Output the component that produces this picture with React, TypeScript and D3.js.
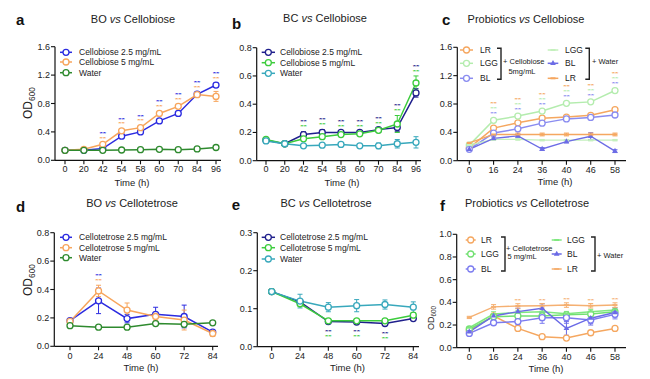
import React from "react";
import * as d3 from "d3";

// ---------------- data ----------------
const timeCb = ["0", "20", "42", "54", "58", "60", "70", "84", "96"];
const timeCt = ["0", "24", "48", "60", "72", "84"];
const timePro = ["0", "16", "24", "36", "40", "46", "58"];

// a: BO vs Cellobiose
const aCb25 = [0.14, 0.14, 0.165, 0.34, 0.4, 0.555, 0.66, 0.93, 1.06];
const aCb25Err = [0.01, 0.01, 0.02, 0.03, 0.03, 0.03, 0.03, 0.03, 0.03];
const aCb5 = [0.14, 0.155, 0.225, 0.415, 0.46, 0.66, 0.76, 0.925, 0.9];
const aCb5Err = [0.01, 0.01, 0.02, 0.03, 0.03, 0.03, 0.03, 0.02, 0.07];
const aWater = [0.14, 0.14, 0.14, 0.145, 0.15, 0.155, 0.15, 0.16, 0.18];
const aWaterErr = [0.01, 0.01, 0.01, 0.01, 0.01, 0.01, 0.01, 0.01, 0.01];
const aStars = ["42", "54", "58", "60", "70", "84", "96"];

// b: BC vs Cellobiose
const bCb25 = [0.145, 0.12, 0.185, 0.2, 0.2, 0.2, 0.22, 0.235, 0.48];
const bCb25Err = [0.01, 0.01, 0.02, 0.02, 0.01, 0.01, 0.01, 0.03, 0.03];
const bCb5 = [0.15, 0.12, 0.155, 0.17, 0.185, 0.19, 0.215, 0.26, 0.55];
const bCb5Err = [0.01, 0.01, 0.01, 0.01, 0.01, 0.01, 0.01, 0.06, 0.05];
const bWater = [0.14, 0.12, 0.105, 0.11, 0.115, 0.105, 0.105, 0.12, 0.13];
const bWaterErr = [0.01, 0.01, 0.01, 0.01, 0.01, 0.01, 0.02, 0.03, 0.04];
const bStars = ["42", "54", "58", "60", "70", "84", "96"];

// c: Probiotics vs Cellobiose
const cLR = [0.18, 0.46, 0.535, 0.6, 0.615, 0.64, 0.72];
const cLRErr = [0.01, 0.02, 0.02, 0.02, 0.02, 0.02, 0.02];
const cLGG = [0.22, 0.57, 0.63, 0.7, 0.81, 0.83, 0.99];
const cLGGErr = [0.01, 0.02, 0.02, 0.02, 0.02, 0.02, 0.03];
const cBL = [0.16, 0.39, 0.45, 0.53, 0.59, 0.61, 0.645];
const cBLErr = [0.01, 0.02, 0.02, 0.02, 0.02, 0.02, 0.02];
const cLGGw = [0.22, 0.3, 0.3, 0.29, 0.29, 0.29, 0.29];
const cLGGwErr = [0.01, 0.01, 0.01, 0.01, 0.01, 0.01, 0.01];
const cBLw = [0.16, 0.315, 0.35, 0.165, 0.27, 0.345, 0.135];
const cBLwErr = [0.01, 0.02, 0.02, 0.02, 0.02, 0.05, 0.02];
const cLRw = [0.25, 0.37, 0.37, 0.37, 0.37, 0.37, 0.37];
const cLRwErr = [0.01, 0.02, 0.02, 0.02, 0.02, 0.02, 0.02];
const cStars = ["16", "24", "36", "40", "46", "58"];

// d: BO vs Cellotetrose
const dCt25 = [0.18, 0.32, 0.195, 0.225, 0.21, 0.1];
const dCt25Err = [0.01, 0.09, 0.03, 0.05, 0.08, 0.01];
const dCt5 = [0.175, 0.39, 0.255, 0.21, 0.185, 0.09];
const dCt5Err = [0.01, 0.04, 0.05, 0.03, 0.07, 0.02];
const dWater = [0.145, 0.135, 0.135, 0.16, 0.155, 0.165];
const dWaterErr = [0.01, 0.01, 0.01, 0.01, 0.01, 0.01];
const dStars = ["24"];

// e: BC vs Cellotetrose
const eCt25 = [0.145, 0.118, 0.066, 0.065, 0.061, 0.074];
const eCt25Err = [0.003, 0.005, 0.004, 0.004, 0.004, 0.004];
const eCt5 = [0.145, 0.113, 0.068, 0.068, 0.068, 0.083];
const eCt5Err = [0.003, 0.005, 0.004, 0.004, 0.004, 0.004];
const eWater = [0.145, 0.12, 0.104, 0.108, 0.111, 0.104];
const eWaterErr = [0.003, 0.018, 0.012, 0.016, 0.012, 0.014];
const eStars = ["48", "60", "72"];

// f: Probiotics vs Cellotetrose
const fLR = [0.15, 0.28, 0.17, 0.097, 0.085, 0.132, 0.17];
const fLRErr = [0.01, 0.02, 0.015, 0.01, 0.01, 0.02, 0.015];
const fLGG = [0.165, 0.274, 0.28, 0.28, 0.29, 0.297, 0.318];
const fLGGErr = [0.01, 0.02, 0.02, 0.02, 0.02, 0.02, 0.02];
const fBL = [0.126, 0.22, 0.23, 0.265, 0.265, 0.244, 0.294];
const fBLErr = [0.01, 0.02, 0.03, 0.05, 0.05, 0.03, 0.04];
const fLGGw = [0.176, 0.297, 0.31, 0.318, 0.3, 0.318, 0.332];
const fLGGwErr = [0.01, 0.02, 0.02, 0.02, 0.02, 0.02, 0.02];
const fBLw = [0.14, 0.28, 0.318, 0.347, 0.17, 0.26, 0.31];
const fBLwErr = [0.01, 0.02, 0.03, 0.04, 0.06, 0.06, 0.04];
const fLRw = [0.267, 0.36, 0.368, 0.37, 0.376, 0.37, 0.376];
const fLRwErr = [0.01, 0.02, 0.02, 0.02, 0.02, 0.02, 0.02];
const fStars = ["24", "36", "40", "46", "58"];

// ---------------- styling ----------------
const FONT = "Liberation Sans, Arial, Helvetica, sans-serif";
const TXT = "#222";

type Series = {
  name: string;
  values: number[];
  errors: number[];
  color: string;
  marker: "circle" | "tri" | "dash" | "none";
  width?: number;
};

type PanelCfg = {
  letter: string;
  letterX: number;
  letterY: number;
  titleA: string;
  titleB: string;
  titleX: number;
  titleY: number;
  cats: string[];
  x0: number;
  x1: number;
  axisX: number;
  axisEnd: number;
  yBottom: number;
  yTop: number;
  yMax: number;
  yTicks: number[];
  yFmt: string;
  tickLabelY: number;
  xTitleX: number;
  xTitleY: number;
  yTitle?: { x: number; y: number; size: number };
  series: Series[];
  stars: string[];
  starOrder: number[]; // series indices, top to bottom
  starBelow?: boolean;
  starGap?: number;
  starStep?: number;
  legend:
    | { type: "simple"; mx0: number; mx1: number; tx: number; rows: number[] }
    | {
        type: "bracket";
        groups: {
          mx0: number;
          mx1: number;
          tx: number;
          rows: number[];
          idx: number[];
          bx: number;
          bTop: number;
          bBot: number;
          labels: { text: string; x: number; y: number; anchor: string }[];
        }[];
      };
};

function Marker({ kind, cx, cy, color, r = 3 }: { kind: string; cx: number; cy: number; color: string; r?: number }) {
  if (kind === "circle")
    return <circle cx={cx} cy={cy} r={r} fill="white" stroke={color} strokeWidth={1.3} />;
  if (kind === "tri") {
    const p = d3.symbol(d3.symbolTriangle, 14)();
    return <path d={p || ""} transform={`translate(${cx},${cy})`} fill={color} />;
  }
  if (kind === "dash")
    return <line x1={cx - 2.5} x2={cx + 2.5} y1={cy} y2={cy} stroke={color} strokeWidth={2} />;
  return null;
}

function Panel({ cfg }: { cfg: PanelCfg }) {
  const x = d3.scalePoint<string>().domain(cfg.cats).range([cfg.x0, cfg.x1]);
  const y = d3.scaleLinear().domain([0, cfg.yMax]).range([cfg.yBottom, cfg.yTop]);
  const fmt = d3.format(cfg.yFmt);
  const line = d3
    .line<number>()
    .x((_, i) => x(cfg.cats[i]) as number)
    .y((d) => y(d));

  const gap = cfg.starGap ?? 6;
  const step = cfg.starStep ?? 4.6;

  return (
    <g fontFamily={FONT}>
      <text x={cfg.letterX} y={cfg.letterY} fontSize={15} fontWeight="bold" fill="#111">
        {cfg.letter}
      </text>
      <text x={cfg.titleX} y={cfg.titleY} fontSize={11} textAnchor="middle" fill={TXT}>
        {cfg.titleA}
        <tspan fontStyle="italic"> vs </tspan>
        {cfg.titleB}
      </text>

      {/* axes */}
      <line x1={cfg.axisX} x2={cfg.axisX} y1={cfg.yBottom} y2={cfg.yTop} stroke="#111" strokeWidth={1.2} />
      <line x1={cfg.axisX} x2={cfg.axisEnd} y1={cfg.yBottom} y2={cfg.yBottom} stroke="#111" strokeWidth={1.2} />
      {cfg.yTicks.map((t) => (
        <g key={"yt" + t}>
          <line x1={cfg.axisX - 4} x2={cfg.axisX} y1={y(t)} y2={y(t)} stroke="#111" strokeWidth={1.1} />
          <text x={cfg.axisX - 5} y={y(t) + 3} fontSize={9} textAnchor="end" fill={TXT}>
            {fmt(t)}
          </text>
        </g>
      ))}
      {cfg.cats.map((c) => (
        <g key={"xt" + c}>
          <line x1={x(c)} x2={x(c)} y1={cfg.yBottom} y2={cfg.yBottom + 4} stroke="#111" strokeWidth={1.1} />
          <text x={x(c)} y={cfg.tickLabelY} fontSize={9} textAnchor="middle" fill={TXT}>
            {c}
          </text>
        </g>
      ))}
      <text x={cfg.xTitleX} y={cfg.xTitleY} fontSize={9.5} textAnchor="middle" fill={TXT}>
        Time (h)
      </text>
      {cfg.yTitle && (
        <text
          transform={`translate(${cfg.yTitle.x},${cfg.yTitle.y}) rotate(-90)`}
          fontSize={cfg.yTitle.size}
          textAnchor="middle"
          fill={TXT}
        >
          OD
          <tspan fontSize={cfg.yTitle.size * 0.7} dy={cfg.yTitle.size * 0.25}>
            600
          </tspan>
        </text>
      )}

      {/* series lines */}
      {cfg.series.map((s, si) => (
        <path key={"l" + si} d={line(s.values) || ""} fill="none" stroke={s.color} strokeWidth={s.width ?? 1.5} />
      ))}
      {/* error bars */}
      {cfg.series.map((s, si) =>
        s.values.map((v, i) => {
          const e = s.errors[i];
          const cx = x(cfg.cats[i]) as number;
          return (
            <g key={"e" + si + "-" + i} stroke={s.color} strokeWidth={1}>
              <line x1={cx} x2={cx} y1={y(v + e)} y2={y(v - e)} />
              <line x1={cx - 2.5} x2={cx + 2.5} y1={y(v + e)} y2={y(v + e)} />
              <line x1={cx - 2.5} x2={cx + 2.5} y1={y(v - e)} y2={y(v - e)} />
            </g>
          );
        })
      )}
      {/* markers */}
      {cfg.series.map((s, si) =>
        s.values.map((v, i) => (
          <Marker key={"m" + si + "-" + i} kind={s.marker} cx={x(cfg.cats[i]) as number} cy={y(v)} color={s.color} />
        ))
      )}

      {/* significance stars: small, vertically compact rows, one colour per series */}
      {cfg.stars.map((c) => {
        const i = cfg.cats.indexOf(c);
        const cx = x(c) as number;
        const n = cfg.starOrder.length;
        let firstC: number;
        if (cfg.starBelow) {
          const base = d3.max(cfg.series, (s) => y(s.values[i] - s.errors[i])) as number;
          firstC = base + gap;
        } else {
          const base = d3.min(cfg.series, (s) => y(s.values[i] + s.errors[i])) as number;
          firstC = base - gap - (n - 1) * step;
        }
        return cfg.starOrder.map((si, k) => (
          <text
            key={"s" + c + k}
            transform={`translate(${cx},${firstC + k * step + 2.6}) scale(1,0.5)`}
            fontSize={8.5}
            fontWeight="bold"
            textAnchor="middle"
            fill={cfg.series[si].color}
          >
            **
          </text>
        ));
      })}

      {/* legend */}
      {cfg.legend.type === "simple" &&
        (() => {
          const L = cfg.legend;
          return cfg.series.map((s, si) => (
            <g key={"lg" + si}>
              <line x1={L.mx0} x2={L.mx1} y1={L.rows[si]} y2={L.rows[si]} stroke={s.color} strokeWidth={1.5} />
              <Marker kind={s.marker} cx={(L.mx0 + L.mx1) / 2} cy={L.rows[si]} color={s.color} />
              <text x={L.tx} y={L.rows[si] + 3} fontSize={8.5} fill={TXT}>
                {s.name}
              </text>
            </g>
          ));
        })()}
      {cfg.legend.type === "bracket" &&
        cfg.legend.groups.map((g, gi) => (
          <g key={"grp" + gi}>
            {g.idx.map((si, k) => {
              const s = cfg.series[si];
              return (
                <g key={"gl" + k}>
                  <line x1={g.mx0} x2={g.mx1} y1={g.rows[k]} y2={g.rows[k]} stroke={s.color} strokeWidth={1.5} />
                  <Marker kind={s.marker} cx={(g.mx0 + g.mx1) / 2} cy={g.rows[k]} color={s.color} />
                  <text x={g.tx} y={g.rows[k] + 3} fontSize={8.5} fill={TXT}>
                    {s.name}
                  </text>
                </g>
              );
            })}
            <path
              d={`M${g.bx - 4},${g.bTop}H${g.bx}V${g.bBot}H${g.bx - 4}`}
              fill="none"
              stroke="#222"
              strokeWidth={1.4}
            />
            {g.labels.map((lb, li) => (
              <text key={"lb" + li} x={lb.x} y={lb.y} fontSize={7.5} textAnchor={lb.anchor as any} fill={TXT}>
                {lb.text}
              </text>
            ))}
          </g>
        ))}
    </g>
  );
}

// ---------------- panels ----------------
const panels: PanelCfg[] = [
  {
    letter: "a", letterX: 16, letterY: 25, titleA: "BO", titleB: "Cellobiose", titleX: 133, titleY: 23,
    cats: timeCb, x0: 65, x1: 216, axisX: 55, axisEnd: 221, yBottom: 160.3, yTop: 46.7, yMax: 1.6,
    yTicks: [0, 0.4, 0.8, 1.2, 1.6], yFmt: ".1f", tickLabelY: 171.5, xTitleX: 132, xTitleY: 186,
    yTitle: { x: 32, y: 103, size: 12 },
    series: [
      { name: "Cellobiose  2.5 mg/mL", values: aCb25, errors: aCb25Err, color: "#2b2be0", marker: "circle" },
      { name: "Cellobiose 5 mg/mL", values: aCb5, errors: aCb5Err, color: "#f7a55c", marker: "circle" },
      { name: "Water", values: aWater, errors: aWaterErr, color: "#2e8a2e", marker: "circle" },
    ],
    stars: aStars, starOrder: [0, 1],
    legend: { type: "simple", mx0: 60, mx1: 72, tx: 79, rows: [52.3, 62, 72.7] },
  },
  {
    letter: "b", letterX: 232, letterY: 29, titleA: "BC", titleB: "Cellobiose", titleX: 325, titleY: 22,
    cats: timeCb, x0: 266, x1: 416, axisX: 256.7, axisEnd: 421, yBottom: 160.7, yTop: 47.7, yMax: 0.8,
    yTicks: [0, 0.2, 0.4, 0.6, 0.8], yFmt: ".1f", tickLabelY: 171.5, xTitleX: 342, xTitleY: 186,
    series: [
      { name: "Cellobiose  2.5 mg/mL", values: bCb25, errors: bCb25Err, color: "#1f1f8c", marker: "circle" },
      { name: "Cellobiose  5 mg/mL", values: bCb5, errors: bCb5Err, color: "#3ccc3c", marker: "circle" },
      { name: "Water", values: bWater, errors: bWaterErr, color: "#38a8bc", marker: "circle" },
    ],
    stars: bStars, starOrder: [0, 1], starStep: 5,
    legend: { type: "simple", mx0: 261.7, mx1: 275, tx: 280, rows: [52.3, 62.7, 73.3] },
  },
  {
    letter: "c", letterX: 442, letterY: 25, titleA: "Probiotics", titleB: "Cellobiose", titleX: 526, titleY: 23,
    cats: timePro, x0: 469.3, x1: 615, axisX: 457.3, axisEnd: 626, yBottom: 160.7, yTop: 47.3, yMax: 1.6,
    yTicks: [0, 0.4, 0.8, 1.2, 1.6], yFmt: ".1f", tickLabelY: 172.5, xTitleX: 555, xTitleY: 185,
    series: [
      { name: "LR", values: cLR, errors: cLRErr, color: "#f5a760", marker: "circle" },
      { name: "LGG", values: cLGG, errors: cLGGErr, color: "#b4ecae", marker: "circle" },
      { name: "BL", values: cBL, errors: cBLErr, color: "#8a8cf0", marker: "circle" },
      { name: "LGG", values: cLGGw, errors: cLGGwErr, color: "#c4f0bd", marker: "dash", width: 1.3 },
      { name: "BL", values: cBLw, errors: cBLwErr, color: "#6c6ce6", marker: "tri", width: 1.4 },
      { name: "LR", values: cLRw, errors: cLRwErr, color: "#f5a760", marker: "dash", width: 1.3 },
    ],
    stars: cStars, starOrder: [0, 1, 2], starStep: 5,
    legend: {
      type: "bracket",
      groups: [
        {
          mx0: 460, mx1: 473, tx: 480, rows: [50, 63.3, 78.3], idx: [0, 1, 2], bx: 501, bTop: 48.3, bBot: 79.3,
          labels: [
            { text: "+ Cellobiose", x: 503, y: 64, anchor: "start" },
            { text: "5mg/mL", x: 522, y: 74, anchor: "middle" },
          ],
        },
        {
          mx0: 547.7, mx1: 558.3, tx: 565, rows: [50, 63.3, 78.3], idx: [3, 4, 5], bx: 589.3, bTop: 48.3, bBot: 79.3,
          labels: [{ text: "+ Water", x: 592, y: 64, anchor: "start" }],
        },
      ],
    },
  },
  {
    letter: "d", letterX: 16, letterY: 211.7, titleA: "BO", titleB: "Cellotetrose", titleX: 132, titleY: 207,
    cats: timeCt, x0: 70, x1: 212.7, axisX: 54.3, axisEnd: 218, yBottom: 346.3, yTop: 232.7, yMax: 0.8,
    yTicks: [0, 0.2, 0.4, 0.6, 0.8], yFmt: ".1f", tickLabelY: 359, xTitleX: 141, xTitleY: 371,
    yTitle: { x: 32, y: 280, size: 12 },
    series: [
      { name: "Cellotetrose  2.5 mg/mL", values: dCt25, errors: dCt25Err, color: "#2b2be0", marker: "circle" },
      { name: "Cellotetrose  5 mg/mL", values: dCt5, errors: dCt5Err, color: "#f7a55c", marker: "circle" },
      { name: "Water", values: dWater, errors: dWaterErr, color: "#2e8a2e", marker: "circle" },
    ],
    stars: dStars, starOrder: [0, 1],
    legend: { type: "simple", mx0: 60, mx1: 72, tx: 79, rows: [237.3, 247.7, 257.7] },
  },
  {
    letter: "e", letterX: 231.7, letterY: 210, titleA: "BC", titleB: "Cellotetrose", titleX: 326, titleY: 207,
    cats: timeCt, x0: 271.7, x1: 413.3, axisX: 257.3, axisEnd: 419, yBottom: 346.7, yTop: 232.7, yMax: 0.3,
    yTicks: [0, 0.1, 0.2, 0.3], yFmt: ".1f", tickLabelY: 359, xTitleX: 347.5, xTitleY: 371,
    series: [
      { name: "Cellotetrose   2.5 mg/mL", values: eCt25, errors: eCt25Err, color: "#1f1f8c", marker: "circle" },
      { name: "Cellotetrose   5 mg/mL", values: eCt5, errors: eCt5Err, color: "#3ccc3c", marker: "circle" },
      { name: "Water", values: eWater, errors: eWaterErr, color: "#38a8bc", marker: "circle" },
    ],
    stars: eStars, starOrder: [0, 1], starBelow: true, starGap: 7, starStep: 5,
    legend: { type: "simple", mx0: 261.7, mx1: 275, tx: 280, rows: [237.3, 247.7, 259] },
  },
  {
    letter: "f", letterX: 440, letterY: 211, titleA: "Probiotics", titleB: "Cellotetrose", titleX: 527, titleY: 207,
    cats: timePro, x0: 469.3, x1: 615, axisX: 456.7, axisEnd: 626, yBottom: 347.7, yTop: 234.3, yMax: 1.0,
    yTicks: [0, 0.2, 0.4, 0.6, 0.8, 1.0], yFmt: ".1f", tickLabelY: 359.8, xTitleX: 546, xTitleY: 371.5,
    yTitle: { x: 434, y: 318, size: 9 },
    series: [
      { name: "LR", values: fLR, errors: fLRErr, color: "#f5a760", marker: "circle" },
      { name: "LGG", values: fLGG, errors: fLGGErr, color: "#72e072", marker: "circle" },
      { name: "BL", values: fBL, errors: fBLErr, color: "#7c7cf0", marker: "circle" },
      { name: "LGG", values: fLGGw, errors: fLGGwErr, color: "#80e880", marker: "dash", width: 1.5 },
      { name: "BL", values: fBLw, errors: fBLwErr, color: "#6a6ae6", marker: "tri", width: 1.4 },
      { name: "LR", values: fLRw, errors: fLRwErr, color: "#f5b072", marker: "dash", width: 1.4 },
    ],
    stars: fStars, starOrder: [5], starGap: 4,
    legend: {
      type: "bracket",
      groups: [
        {
          mx0: 465.7, mx1: 475.7, tx: 481, rows: [240, 254, 269], idx: [0, 1, 2], bx: 505, bTop: 237, bBot: 271,
          labels: [
            { text: "+ Cellotetrose", x: 506, y: 251, anchor: "start" },
            { text: "5 mg/mL", x: 522, y: 259, anchor: "middle" },
          ],
        },
        {
          mx0: 551.7, mx1: 561.7, tx: 567, rows: [240, 254, 269], idx: [3, 4, 5], bx: 595, bTop: 237, bBot: 271,
          labels: [{ text: "+ Water", x: 597, y: 258, anchor: "start" }],
        },
      ],
    },
  },
];

export default function App() {
  return (
    <svg
      width={650}
      height={379}
      viewBox="0 0 650 379"
      style={{ position: "absolute", left: 0, top: 0, background: "white" }}
    >
      <rect width={650} height={379} fill="white" />
      {panels.map((p) => (
        <Panel key={p.letter} cfg={p} />
      ))}
    </svg>
  );
}
